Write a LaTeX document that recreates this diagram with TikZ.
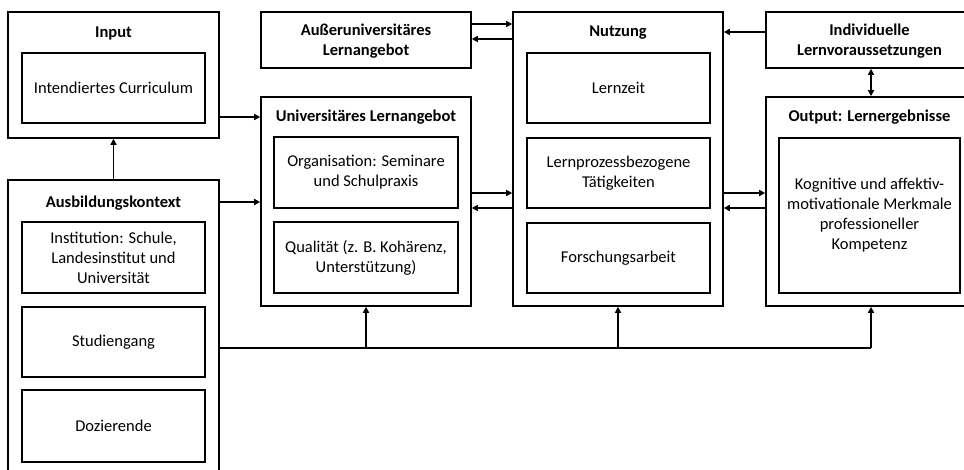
\documentclass[tikz,border=0pt]{standalone}
\usepackage{fontspec}
\setmainfont{Carlito}
\usetikzlibrary{arrows.meta}

\begin{document}
\begin{tikzpicture}[x=1pt, y=-1pt, font=\fontsize{16.5}{20}\selectfont,
    outer/.style = {draw, line width=1.6pt, inner sep=0pt},
    inner/.style = {draw, line width=2pt, inner sep=2pt, align=center},
    title/.style = {font=\fontsize{16.5}{20}\selectfont\bfseries, align=center},
    link/.style = {line width=1.4pt, -{Triangle[length=6pt, width=6pt]}}]
\useasboundingbox (0,0) rectangle (964,470);
% outer boxes
\node[outer, minimum width=211pt, minimum height=126pt] (input) at (113.5,75) {};
\node[outer, minimum width=211pt, minimum height=296pt] (ausb) at (113.5,328) {};
\node[outer, minimum width=210pt, minimum height=56pt] (ausser) at (366,40) {};
\node[outer, minimum width=210pt, minimum height=209pt] (uni) at (366,201.5) {};
\node[outer, minimum width=210pt, minimum height=294pt] (nutz) at (618,159) {};
\node[outer, minimum width=207pt, minimum height=56pt] (indiv) at (869.5,40) {};
\node[outer, minimum width=207pt, minimum height=209pt] (output) at (869.5,201.5) {};
% titles
\node[title] (tinput) at (113.5,33) {Input};
\node[title] (tausb) at (113.5,203) {Ausbildungskontext};
\node[title] (tausser) at (366,41) {Außeruniversitäres\\Lernangebot};
\node[title] (tuni) at (366,117) {Universitäres Lernangebot};
\node[title] (tnutz) at (618,33) {Nutzung};
\node[title] (tindiv) at (869.5,41) {Individuelle\\Lernvoraussetzungen};
\node[title] (toutput) at (869.5,117) {Output: Lernergebnisse};
% inner boxes
\node[inner, minimum width=183pt, minimum height=70pt] (curr) at (113.5,88) {Intendiertes Curriculum};
\node[inner, minimum width=183pt, minimum height=71pt] (inst) at (113.5,257.5) {Institution: Schule,\\Landesinstitut und\\Universität};
\node[inner, minimum width=183pt, minimum height=70pt] (stud) at (113.5,342) {Studiengang};
\node[inner, minimum width=183pt, minimum height=72pt] (doz) at (113.5,426) {Dozierende};
\node[inner, minimum width=184pt, minimum height=71pt] (org) at (366,172.5) {Organisation: Seminare\\und Schulpraxis};
\node[inner, minimum width=184pt, minimum height=71pt] (qual) at (366,257.5) {Qualität (z. B. Kohärenz,\\Unterstützung)};
\node[inner, minimum width=183pt, minimum height=70pt] (zeit) at (618.5,88) {Lernzeit};
\node[inner, minimum width=183pt, minimum height=70pt] (taet) at (618.5,173) {Lernprozessbezogene\\Tätigkeiten};
\node[inner, minimum width=183pt, minimum height=70pt] (forsch) at (618.5,258) {Forschungsarbeit};
\node[inner, minimum width=181pt, minimum height=155pt] (merk) at (869.5,215.5) {Kognitive und affektiv-\\motivationale Merkmale\\professioneller\\Kompetenz};
% connectors
\coordinate (split) at (ausb.east |- 0,348);
\coordinate (splitend) at (871,348);
\draw[link] (ausb.north) -- (input.south);
\draw[link] (input.east |- 0,117) -- (uni.west |- 0,117);
\draw[link] (ausb.east |- 0,202) -- (uni.west |- 0,202);
\draw[link] (ausser.east |- 0,24) -- (nutz.west |- 0,24);
\draw[link] (nutz.west |- 0,39) -- (ausser.east |- 0,39);
\draw[link] (uni.east |- 0,193) -- (nutz.west |- 0,193);
\draw[link] (nutz.west |- 0,208) -- (uni.east |- 0,208);
\draw[link] (indiv.west |- 0,32) -- (nutz.east |- 0,32);
\draw[link] (nutz.east |- 0,193) -- (output.west |- 0,193);
\draw[link] (output.west |- 0,208) -- (nutz.east |- 0,208);
\draw[link, {Triangle[length=6pt, width=6pt]}-{Triangle[length=6pt, width=6pt]}] (indiv.south -| splitend) -- (output.north -| splitend);
\draw[line width=1.4pt] (split) -- (splitend);
\draw[link] (split -| uni.south) -- (uni.south);
\draw[link] (split -| 618,0) -- (nutz.south -| 618,0);
\draw[link] (splitend) -- (output.south -| splitend);
\end{tikzpicture}
\end{document}
